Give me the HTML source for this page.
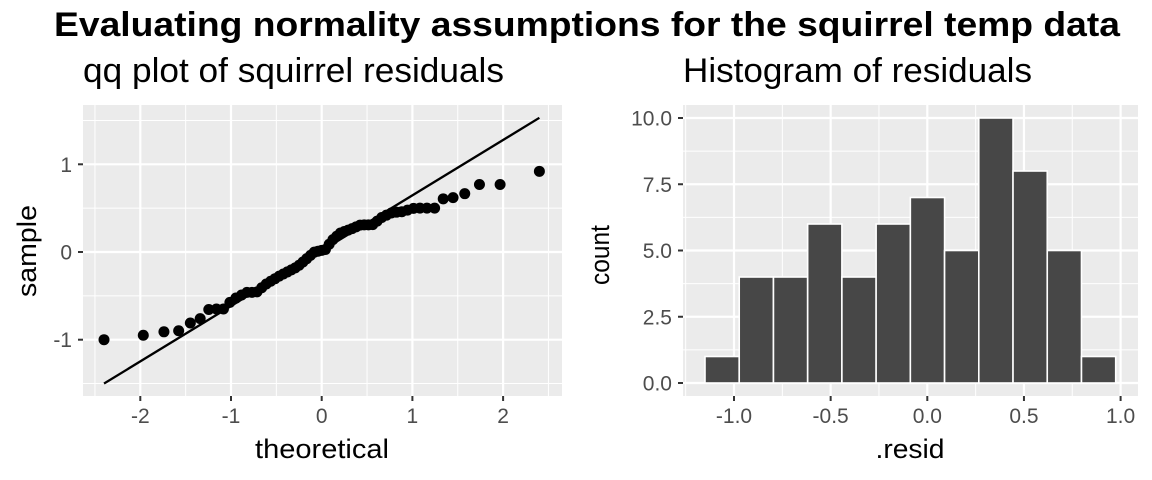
<!DOCTYPE html>
<html><head><meta charset="utf-8"><style>
body{margin:0;background:#fff}
svg{display:block}
text{font-family:"Liberation Sans",sans-serif}
</style></head><body>
<svg id="s" width="1152" height="480" xmlns="http://www.w3.org/2000/svg">
<text x="54" y="36" font-size="34" font-weight="bold" textLength="1066" lengthAdjust="spacingAndGlyphs">Evaluating normality assumptions for the squirrel temp data</text>
<text x="83" y="82" font-size="34" textLength="421" lengthAdjust="spacingAndGlyphs">qq plot of squirrel residuals</text>
<text x="683" y="82" font-size="34" textLength="349" lengthAdjust="spacingAndGlyphs">Histogram of residuals</text>
<rect x="83" y="105" width="479" height="291" fill="#ebebeb"/>
<rect x="683" y="105" width="455" height="291" fill="#ebebeb"/>
<g id="g"></g>
<text x="322" y="458" font-size="27" text-anchor="middle" textLength="134" lengthAdjust="spacingAndGlyphs">theoretical</text>
<text transform="translate(36,251) rotate(-90)" font-size="27" text-anchor="middle" textLength="92" lengthAdjust="spacingAndGlyphs">sample</text>
<text x="910" y="458" font-size="27" text-anchor="middle" textLength="69" lengthAdjust="spacingAndGlyphs">.resid</text>
<text transform="translate(609,255) rotate(-90)" font-size="27" text-anchor="middle" textLength="60" lengthAdjust="spacingAndGlyphs">count</text>
</svg>
<script>
var g=document.getElementById('g'),h='';
function L(x1,y1,x2,y2,c,w){h+='<line x1="'+x1+'" y1="'+y1+'" x2="'+x2+'" y2="'+y2+'" stroke="'+c+'" stroke-width="'+w+'"/>';}
function T(x,y,s,a){h+='<text x="'+x+'" y="'+y+'" font-size="21" fill="#4d4d4d" text-anchor="'+a+'">'+s+'</text>';}
var X=function(t){return 321.7+90.7*t},Y=function(s){return 252-87.7*s};
[-2.5,-1.5,-0.5,0.5,1.5,2.5].forEach(function(t){L(X(t),105,X(t),396,'#fff',1)});
[-1.5,-0.5,0.5,1.5].forEach(function(s){L(83,Y(s),562,Y(s),'#fff',1)});
[-2,-1,0,1,2].forEach(function(t){L(X(t),105,X(t),396,'#fff',2.2);L(X(t),396,X(t),401,'#333',2);T(X(t),423,t<0?'-'+(-t):t,'middle')});
[-1,0,1].forEach(function(s){L(83,Y(s),562,Y(s),'#fff',2.2);L(78,Y(s),83,Y(s),'#333',2);T(72,Y(s)+7.5,s<0?'-'+(-s):s,'end')});
L(X(-2.4),Y(-1.5),X(2.4),Y(1.53),'#000',2.3);
function qn(p){var a=[-39.69683028665376,220.9460984245205,-275.9285104469687,138.357751867269,-30.66479806614716,2.506628277459239],b=[-54.47609879822406,161.5858368580409,-155.6989798598866,66.80131188771972,-13.28068155288572],c=[-7.784894002430293e-3,-0.3223964580411365,-2.400758277161838,-2.549732539343734,4.374664141464968,2.938163982698783],d=[7.784695709041462e-3,0.3224671290700398,2.445134137142996,3.754408661907416],q,r;
if(p<0.02425){q=Math.sqrt(-2*Math.log(p));return(((((c[0]*q+c[1])*q+c[2])*q+c[3])*q+c[4])*q+c[5])/((((d[0]*q+d[1])*q+d[2])*q+d[3])*q+1);}
if(p>1-0.02425){return -qn(1-p);}
q=p-0.5;r=q*q;return(((((a[0]*r+a[1])*r+a[2])*r+a[3])*r+a[4])*r+a[5])*q/(((((b[0]*r+b[1])*r+b[2])*r+b[3])*r+b[4])*r+1);}
var tb=[[-2.4,-1.0],[-1.97,-0.95],[-1.74,-0.91],[-1.58,-0.9],[-1.45,-0.81],[-1.34,-0.76],[-1.24,-0.65],[-1.08,-0.65],[-0.99,-0.55],[-0.83,-0.46],[-0.72,-0.46],[-0.62,-0.37],[-0.46,-0.27],[-0.27,-0.17],[-0.08,0],[0.05,0.03],[0.1,0.12],[0.21,0.22],[0.32,0.26],[0.43,0.31],[0.56,0.31],[0.67,0.4],[0.78,0.45],[0.89,0.46],[1.02,0.5],[1.26,0.5],[1.35,0.62],[1.46,0.62],[1.59,0.67],[1.74,0.77],[1.97,0.77],[2.4,0.92]];
function interp(t){for(var i=1;i<tb.length;i++){if(t<=tb[i][0]){var a=tb[i-1],b=tb[i];return a[1]+(b[1]-a[1])*(t-a[0])/(b[0]-a[0]);}}return tb[tb.length-1][1];}
for(var i=1;i<=61;i++){var t=qn((i-0.5)/61);h+='<circle cx="'+X(t)+'" cy="'+Y(interp(t))+'" r="5.5" fill="#000"/>';}
var U=function(v){return 927.3+193.3*v},V=function(c){return 383-26.5*c};
[-1.25,-0.75,-0.25,0.25,0.75].forEach(function(v){L(U(v),105,U(v),396,'#fff',1)});
[1.25,3.75,6.25,8.75].forEach(function(c){L(683,V(c),1138,V(c),'#fff',1)});
[-1,-0.5,0,0.5,1].forEach(function(v){L(U(v),105,U(v),396,'#fff',2.2);L(U(v),396,U(v),401,'#333',2);T(U(v),423,v.toFixed(1),'middle')});
[0,2.5,5,7.5,10].forEach(function(c){L(683,V(c),1138,V(c),'#fff',2.2);L(678,V(c),683,V(c),'#333',2);T(672,V(c)+7.5,c.toFixed(1),'end')});
var cnt=[1,4,4,6,4,6,7,5,10,8,5,1],x0=705,bw=(1115.7-705)/12;
cnt.forEach(function(c,i){h+='<rect x="'+(x0+i*bw)+'" y="'+V(c)+'" width="'+bw+'" height="'+(26.5*c)+'" fill="#474747" stroke="#fff" stroke-width="1.6"/>';});
g.innerHTML=h;
</script>
</body></html>
